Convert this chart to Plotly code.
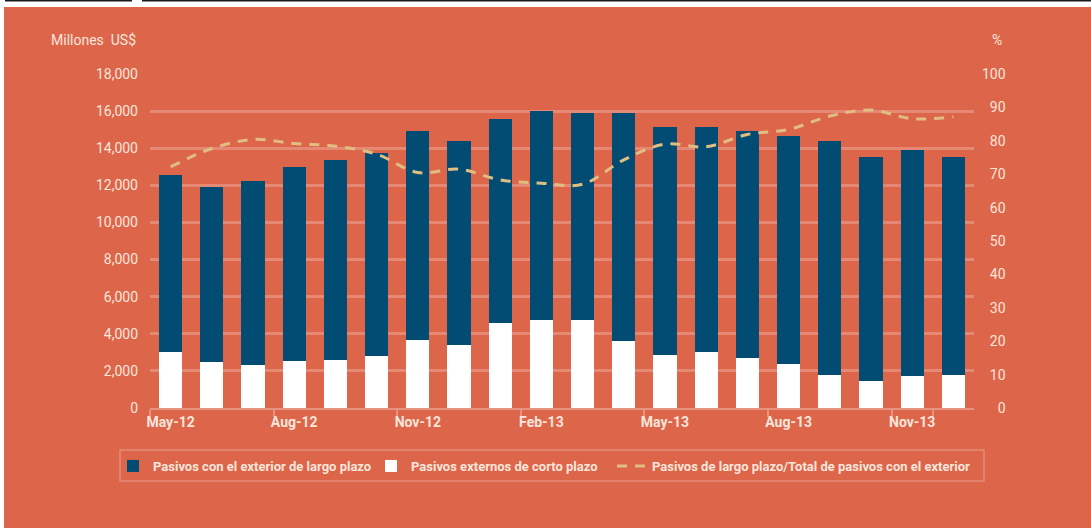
import plotly.graph_objects as go

months = ["May-12", "Jun-12", "Jul-12", "Aug-12", "Sep-12", "Oct-12", "Nov-12", "Dec-12",
          "Jan-13", "Feb-13", "Mar-13", "Apr-13", "May-13", "Jun-13", "Jul-13", "Aug-13",
          "Sep-13", "Oct-13", "Nov-13", "Dec-13"]
tick_months = ["May-12", "Aug-12", "Nov-12", "Feb-13", "May-13", "Aug-13", "Nov-13"]

largo_plazo = [9550, 9400, 9920, 10450, 10770, 10950, 11250, 11000, 10980, 11250,
               11150, 12300, 12300, 12130, 12230, 12280, 12600, 12060, 12160, 11730]
corto_plazo = [3000, 2500, 2330, 2550, 2600, 2800, 3680, 3400, 4600, 4750,
               4750, 3600, 2850, 3020, 2700, 2380, 1800, 1470, 1740, 1800]
ratio_pct = [72.2, 77.7, 80.4, 79.2, 78.4, 76.0, 70.5, 71.5, 68.3, 67.3,
             67.0, 74.3, 79.0, 78.2, 81.9, 83.4, 87.4, 89.2, 86.6, 87.2]

left_ticks = [0, 2000, 4000, 6000, 8000, 10000, 12000, 14000, 16000, 18000]
right_ticks = [0, 10, 20, 30, 40, 50, 60, 70, 80, 90, 100]

BG = "#DD654A"
BLUE = "#024C73"
TAN = "#E0BE82"
TXT = "#FCE6DC"
GRID = "rgba(255,255,255,0.24)"
FONT = "Roboto, Liberation Sans, sans-serif"

W, H = 1091, 528
ML, MR, MT, MB = 150, 117, 74, 120
PW, PH = W - ML - MR, H - MT - MB


def px(x):
    return (x - ML) / PW


def py(y):
    return (H - MB - y) / PH


fig = go.Figure()
fig.add_trace(go.Bar(x=months, y=corto_plazo, name="Pasivos externos de corto plazo",
                     marker=dict(color="#FFFFFF", line=dict(width=0)), legend="legend2"))
fig.add_trace(go.Bar(x=months, y=largo_plazo, name="Pasivos con el exterior de largo plazo",
                     marker=dict(color=BLUE, line=dict(width=0)), legend="legend"))
fig.add_trace(go.Scatter(x=months, y=ratio_pct, yaxis="y2", mode="lines",
                         name="Pasivos de largo plazo/Total de pasivos con el exterior",
                         line=dict(color=TAN, width=3, dash="10px,8px", shape="spline", smoothing=1.0),
                         legend="legend3"))

right_text = [("\u2007" * (3 - len(str(v)))) + str(v) for v in right_ticks]

legend_font = dict(family=FONT, size=13, color=TXT, weight="bold")


def leg(text_x):
    return dict(orientation="h", x=px(text_x - 40), xanchor="left", y=py(466), yanchor="middle",
                bgcolor="rgba(0,0,0,0)", borderwidth=0, font=legend_font, itemwidth=30)


fig.update_layout(
    template="none",
    width=W, height=H,
    margin=dict(l=ML, r=MR, t=MT, b=MB, pad=0, autoexpand=False),
    paper_bgcolor=BG, plot_bgcolor=BG,
    barmode="stack", bargap=0.44,
    font=dict(family=FONT, color=TXT, size=14),
    showlegend=True,
    legend=leg(153),
    legend2=leg(411),
    legend3=leg(652),
    xaxis=dict(type="category", categoryorder="array", categoryarray=months,
               tickvals=tick_months, ticktext=tick_months, tickson="boundaries",
               ticks="outside", ticklen=7, tickwidth=2, tickcolor="rgba(255,255,255,0.3)",
               showline=True, linecolor="rgba(255,255,255,0.3)", linewidth=2,
               showgrid=False, zeroline=False, tickangle=0, automargin=False,
               tickfont=dict(family=FONT, size=14, color=TXT, weight="bold"),
               range=[-0.5, 19.5]),
    yaxis=dict(range=[0, 18000], tickvals=left_ticks, tickformat=",d",
               showgrid=True, gridcolor=GRID, gridwidth=2.5, zeroline=False,
               showline=False, ticks="", ticklabelstandoff=11, automargin=False,
               tickfont=dict(family=FONT, size=14, color=TXT)),
    yaxis2=dict(range=[0, 100], overlaying="y", side="right", tickvals=right_ticks,
                ticktext=right_text, showgrid=False, zeroline=False, showline=False,
                ticks="", ticklabelstandoff=7, automargin=False,
                tickfont=dict(family=FONT, size=14, color=TXT)),
    annotations=[
        dict(text="Millones\u00a0 US$", xref="paper", yref="paper", x=px(138), y=py(40),
             xanchor="right", yanchor="middle", showarrow=False,
             font=dict(family=FONT, size=14, color=TXT)),
        dict(text="%", xref="paper", yref="paper", x=px(1004), y=py(40),
             xanchor="right", yanchor="middle", showarrow=False,
             font=dict(family=FONT, size=14, color=TXT)),
    ],
    shapes=[
        dict(type="rect", xref="paper", yref="paper", x0=px(120), x1=px(984), y0=py(481), y1=py(450),
             fillcolor="rgba(0,0,0,0)", line=dict(width=1.5, color="rgba(255,255,255,0.25)"), layer="above"),
        dict(type="rect", xref="paper", yref="paper", x0=px(-2), x1=px(W + 2), y0=py(7), y1=py(-2),
             fillcolor="#FFFFFF", line=dict(width=0), layer="above"),
        dict(type="rect", xref="paper", yref="paper", x0=px(-2), x1=px(4), y0=py(H + 2), y1=py(-2),
             fillcolor="#FFFFFF", line=dict(width=0), layer="above"),
        dict(type="rect", xref="paper", yref="paper", x0=px(5), x1=px(132), y0=py(1.4), y1=py(-2),
             fillcolor="#1A1A1A", line=dict(width=0), layer="above"),
        dict(type="rect", xref="paper", yref="paper", x0=px(142), x1=px(W + 2), y0=py(1.4), y1=py(-2),
             fillcolor="#1A1A1A", line=dict(width=0), layer="above"),
    ],
)

fig.write_html("out.html", config={"displayModeBar": False},
               post_script="document.body.style.margin='0px';document.body.style.overflow='hidden';")
